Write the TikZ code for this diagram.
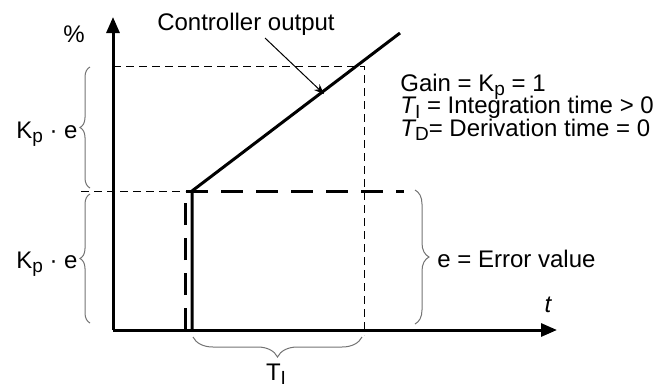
\documentclass[tikz,border=0pt]{standalone}
\usepackage{fontspec}
\setmainfont{Liberation Sans}
\usetikzlibrary{arrows.meta,decorations.pathreplacing}
\newcommand{\lowsub}[1]{\raisebox{-0.35ex}{\fontsize{9.5}{10}\selectfont #1}}
\tikzset{
  ax/.style={line width=1.5pt,-{Triangle[length=8pt,width=6.5pt]}},
  guide/.style={line width=0.5pt,dash pattern=on 4pt off 2.5pt},
  stepline/.style={line width=1.5pt},
  stepdash/.style={line width=1.5pt,dash pattern=on 11pt off 6.5pt},
  brc/.style={draw=black!55,line width=0.5pt,decorate,decoration={brace,amplitude=#1}},
  lbl/.style={font=\fontsize{12}{14}\selectfont,inner sep=0pt},
  pointer/.style={line width=0.5pt,-{Stealth[length=5pt,width=4pt]}},
}
\begin{document}
\begin{tikzpicture}[x=0.5pt,y=-0.5pt]
\useasboundingbox (0,0) rectangle (655,387);
\coordinate (o) at (113,330);
\coordinate (ytop) at (113,17);
\coordinate (xend) at (557,330);
\coordinate (s0) at (192,331);
\coordinate (s1) at (192,191);
\coordinate (r1) at (400,33);
\coordinate (d0) at (185,330);
\coordinate (d1) at (185,191);
\coordinate (e1) at (404,191);
\coordinate (hl) at (113,66);
\coordinate (hr) at (364,66);
\coordinate (vb) at (364,335);
\coordinate (ml) at (81,191);
\coordinate (ptr) at (324,94);
\draw[guide] (hl) -- (hr) -- (vb);
\draw[guide] (ml) -- (d1);
\draw[ax] (o) -- (ytop);
\draw[ax] (o) -- (xend);
\draw[stepdash] (d0) -- (d1) -- (e1);
\draw[stepline] (s0) -- (s1) -- (r1);
\node[lbl,anchor=base] (pct) at (74,42) {\%};
\node[lbl,anchor=base] (tlbl) at (548,312) {\itshape t};
\node[lbl,anchor=base] (ctrl) at (246,30) {Controller output};
\draw[pointer] (265,38) coordinate (ps) -- (ptr);
\draw[brc=5pt] (90,188) -- (90,67);
\draw[brc=5pt] (90,323) -- (90,194);
\draw[brc=7pt] (415,190) -- (415,324);
\draw[brc=10pt] (362,337) -- (193,337);
\node[lbl,anchor=base east] (kpe1) at (78,138) {K\lowsub{p} · e};
\node[lbl,anchor=base east] (kpe2) at (78,268) {K\lowsub{p} · e};
\node[lbl,anchor=base west] (err) at (437,267) {e = Error value};
\node[lbl,anchor=base] (ti) at (276,380) {T\lowsub{I}};
\node[lbl,anchor=base west,align=left,
  font={\fontsize{12}{11.2}\selectfont\lineskiplimit=-20pt}] (params) at (400,136)
  {Gain = K\lowsub{p} = 1\\
   \itshape T\upshape\lowsub{I} = Integration time > 0\\
   \itshape T\upshape\lowsub{D}= Derivation time = 0};
\end{tikzpicture}
\end{document}
